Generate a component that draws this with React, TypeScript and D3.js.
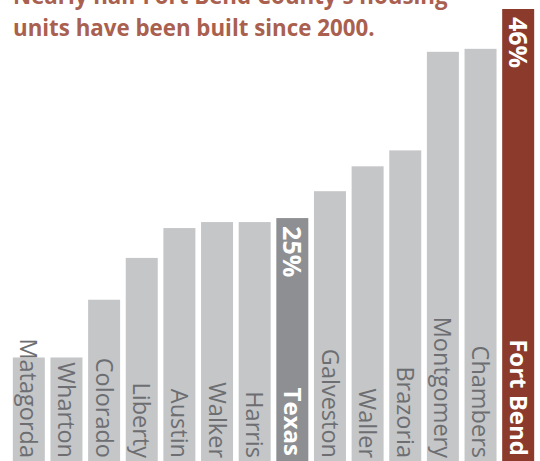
import * as d3 from 'd3';

const counties = [
  'Matagorda', 'Wharton', 'Colorado', 'Liberty', 'Austin', 'Walker', 'Harris',
  'Texas', 'Galveston', 'Waller', 'Brazoria', 'Montgomery', 'Chambers', 'Fort Bend',
];
// share of housing units built since 2000 (%)
const shares = [11, 11, 16.8, 21, 24, 24.6, 24.6, 25, 27.7, 30.2, 31.8, 41.7, 42, 46];
const highlighted = ['Texas', 'Fort Bend'];
const titleLines = [
  "Nearly half Fort Bend County's housing",
  'units have been built since 2000.',
];

const W = 540;
const H = 461;

export default function App() {
  const x = d3.scaleBand<string>()
    .domain(counties)
    .range([10, 537])
    .paddingInner(0.15)
    .paddingOuter(0.075);

  const y = d3.scaleLinear()
    .domain([0, d3.max(shares) as number])
    .range([467, 9]);

  const fillFor = (name: string) =>
    name === 'Fort Bend' ? '#8b3a2b' : name === 'Texas' ? '#8e8f92' : '#c5c6c8';

  return (
    <svg
      width={W}
      height={H}
      viewBox={`0 0 ${W} ${H}`}
      style={{ position: 'absolute', left: 0, top: 0, display: 'block', background: '#fff' }}
    >
      {counties.map((name, i) => {
        const bx = x(name) as number;
        const bw = x.bandwidth();
        const top = y(shares[i]);
        const isHi = highlighted.includes(name);
        const cx = bx + bw / 2;
        const fs = isHi ? 24 : 23.5;
        return (
          <g key={name}>
            <rect x={bx} y={top} width={bw} height={y(0) - top} fill={fillFor(name)} />
            <text
              transform={`translate(${cx - fs * 0.36},${isHi ? 456 : 458}) rotate(90)`}
              textAnchor="end"
              fontFamily="'Open Sans', sans-serif"
              fontSize={fs}
              fontWeight={isHi ? 700 : 400}
              fill={isHi ? '#ffffff' : '#6d6e71'}
            >
              {name}
            </text>
            {isHi && (
              <text
                transform={`translate(${cx - 9},${top + 8}) rotate(90)`}
                textAnchor="start"
                fontFamily="'Open Sans', sans-serif"
                fontSize={25}
                fontWeight={700}
                fill="#ffffff"
              >
                {`${Math.round(shares[i])}%`}
              </text>
            )}
          </g>
        );
      })}
      <g fontFamily="'Open Sans', sans-serif" fontWeight={700} fill="#a9604f">
        {titleLines.map((line, i) => (
          <text key={i} x={13} y={4 + i * 32} fontSize={22.3}>
            {line}
          </text>
        ))}
      </g>
    </svg>
  );
}
